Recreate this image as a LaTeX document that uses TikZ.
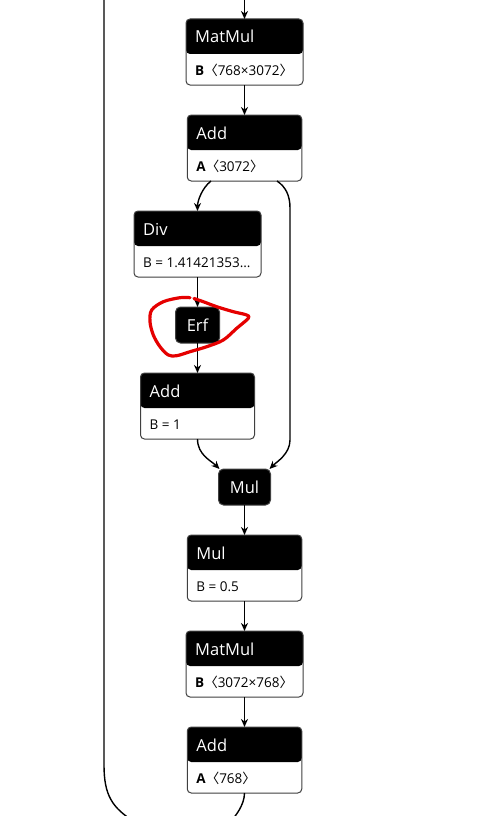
\documentclass[tikz,border=0pt]{standalone}
\usepackage{fontspec}
\setmainfont{Open Sans}
\newfontfamily\cjk{Noto Sans CJK SC}
\usepackage{tikz}
\usetikzlibrary{positioning,arrows.meta}
\newcommand{\dims}[1]{{\cjk 〈}#1{\cjk 〉}}
\newcommand{\oplabels}[3]{%
  \node[optitle] (#1-title) at ([xshift=9pt, yshift=-24pt]#1.north west) {#2};
  \node[opattr]  (#1-attr)  at ([xshift=9pt, yshift=-56pt]#1.north west) {#3};}

\begin{document}
\begin{tikzpicture}[
    x=1pt, y=1pt,
    node distance=30pt and 47pt,
    op/.style={rectangle, draw=black!75, line width=1pt, rounded corners=4pt, fill=white, minimum height=66pt, inner sep=0pt, outer sep=0pt,
      path picture={\fill[black] (path picture bounding box.north west) rectangle ([yshift=-35pt]path picture bounding box.north east);}},
    optitle/.style={anchor=base west, text=white, font=\fontsize{16.5}{20}\selectfont, inner sep=0pt},
    opattr/.style={anchor=base west, font=\fontsize{13.5}{16}\selectfont, inner sep=0pt},
    small/.style={rectangle, draw=black!75, line width=1pt, rounded corners=5pt, fill=black, text=white, minimum height=36pt, inner sep=0pt, outer sep=0pt, font=\fontsize{16.5}{20}\selectfont},
    edge/.style={-{Stealth[length=8pt, width=7pt, inset=2.5pt]}, line width=1.4pt},
    wire/.style={line width=1.4pt},
    scribble/.style={draw=red!90!black, line width=3.2pt, line cap=round, line join=round},
]
\clip (0,0) rectangle (487,-816);

\node[op, minimum width=117pt] (matmul1) at (244.5,-52) {};
\node[op, minimum width=114.5pt, below=of matmul1] (add1) {};
\node[op, minimum width=127pt, below=of add1, xshift=-47pt] (div) {};
\node[small, minimum width=44pt, below=of div] (erf) {Erf};
\node[op, minimum width=114pt, below=of erf] (add2) {};
\node[small, minimum width=52pt, below=of add2, xshift=47pt] (mul) {Mul};
\node[op, minimum width=114.5pt, below=of mul] (mul2) {};
\node[op, minimum width=117pt, below=of mul2] (matmul2) {};
\node[op, minimum width=114.5pt, below=of matmul2] (add3) {};

\oplabels{matmul1}{MatMul}{\textbf{B}\dims{768×3072}}
\oplabels{add1}{Add}{\textbf{A}\dims{3072}}
\oplabels{div}{Div}{B = 1.41421353...}
\oplabels{add2}{Add}{B = 1}
\oplabels{mul2}{Mul}{B = 0.5}
\oplabels{matmul2}{MatMul}{\textbf{B}\dims{3072×768}}
\oplabels{add3}{Add}{\textbf{A}\dims{768}}

% loose ends, cut off by the page
\coordinate (feed) at (244.5,5);
\coordinate (skiptop) at (104,5);
\coordinate (skipbot) at (135,-822);
\coordinate (out) at (230,-822);

\draw[edge] (feed) -- (matmul1);
\draw[edge] (matmul1) -- (add1);
\draw[edge] ([xshift=-33.5pt]add1.south) .. controls +(-9,-7) and +(0,10) .. (div.north);
\draw[edge] ([xshift=32.5pt]add1.south) .. controls +(9,-6) and +(0,12) .. (290,-208) -- (290,-440) .. controls +(0,-14) and +(7,7) .. ([xshift=-1pt]mul.north east);
\draw[edge] (div) -- (erf);
\draw[edge] (erf) -- (add2);
\draw[edge] (add2.south) .. controls +(0,-16) and +(-8,8) .. ([xshift=1pt]mul.north west);
\draw[edge] (mul) -- (mul2);
\draw[edge] (mul2) -- (matmul2);
\draw[edge] (matmul2) -- (add3);
\draw[wire] (add3.south) .. controls +(0,-12) and +(5,5) .. (out);
% residual path down the left side
\draw[wire] (skiptop) -- (104,-765) .. controls (104,-795) and (112,-808) .. (skipbot);

% hand drawn ring round Erf
\draw[scribble] plot[smooth, tension=0.55] coordinates {(190,-297.7) (180,-297.7) (163.3,-301.7) (151.7,-310) (150,-321.7) (153.3,-335) (160,-346.7) (168.3,-355) (176.7,-355.7) (190,-351.7) (206.7,-346.7) (223.3,-340) (236.7,-328.3) (248.3,-318.3) (246.7,-315) (233.3,-311.7) (216.7,-306.7) (203.3,-301.7) (194,-298.5)};
\end{tikzpicture}
\end{document}
